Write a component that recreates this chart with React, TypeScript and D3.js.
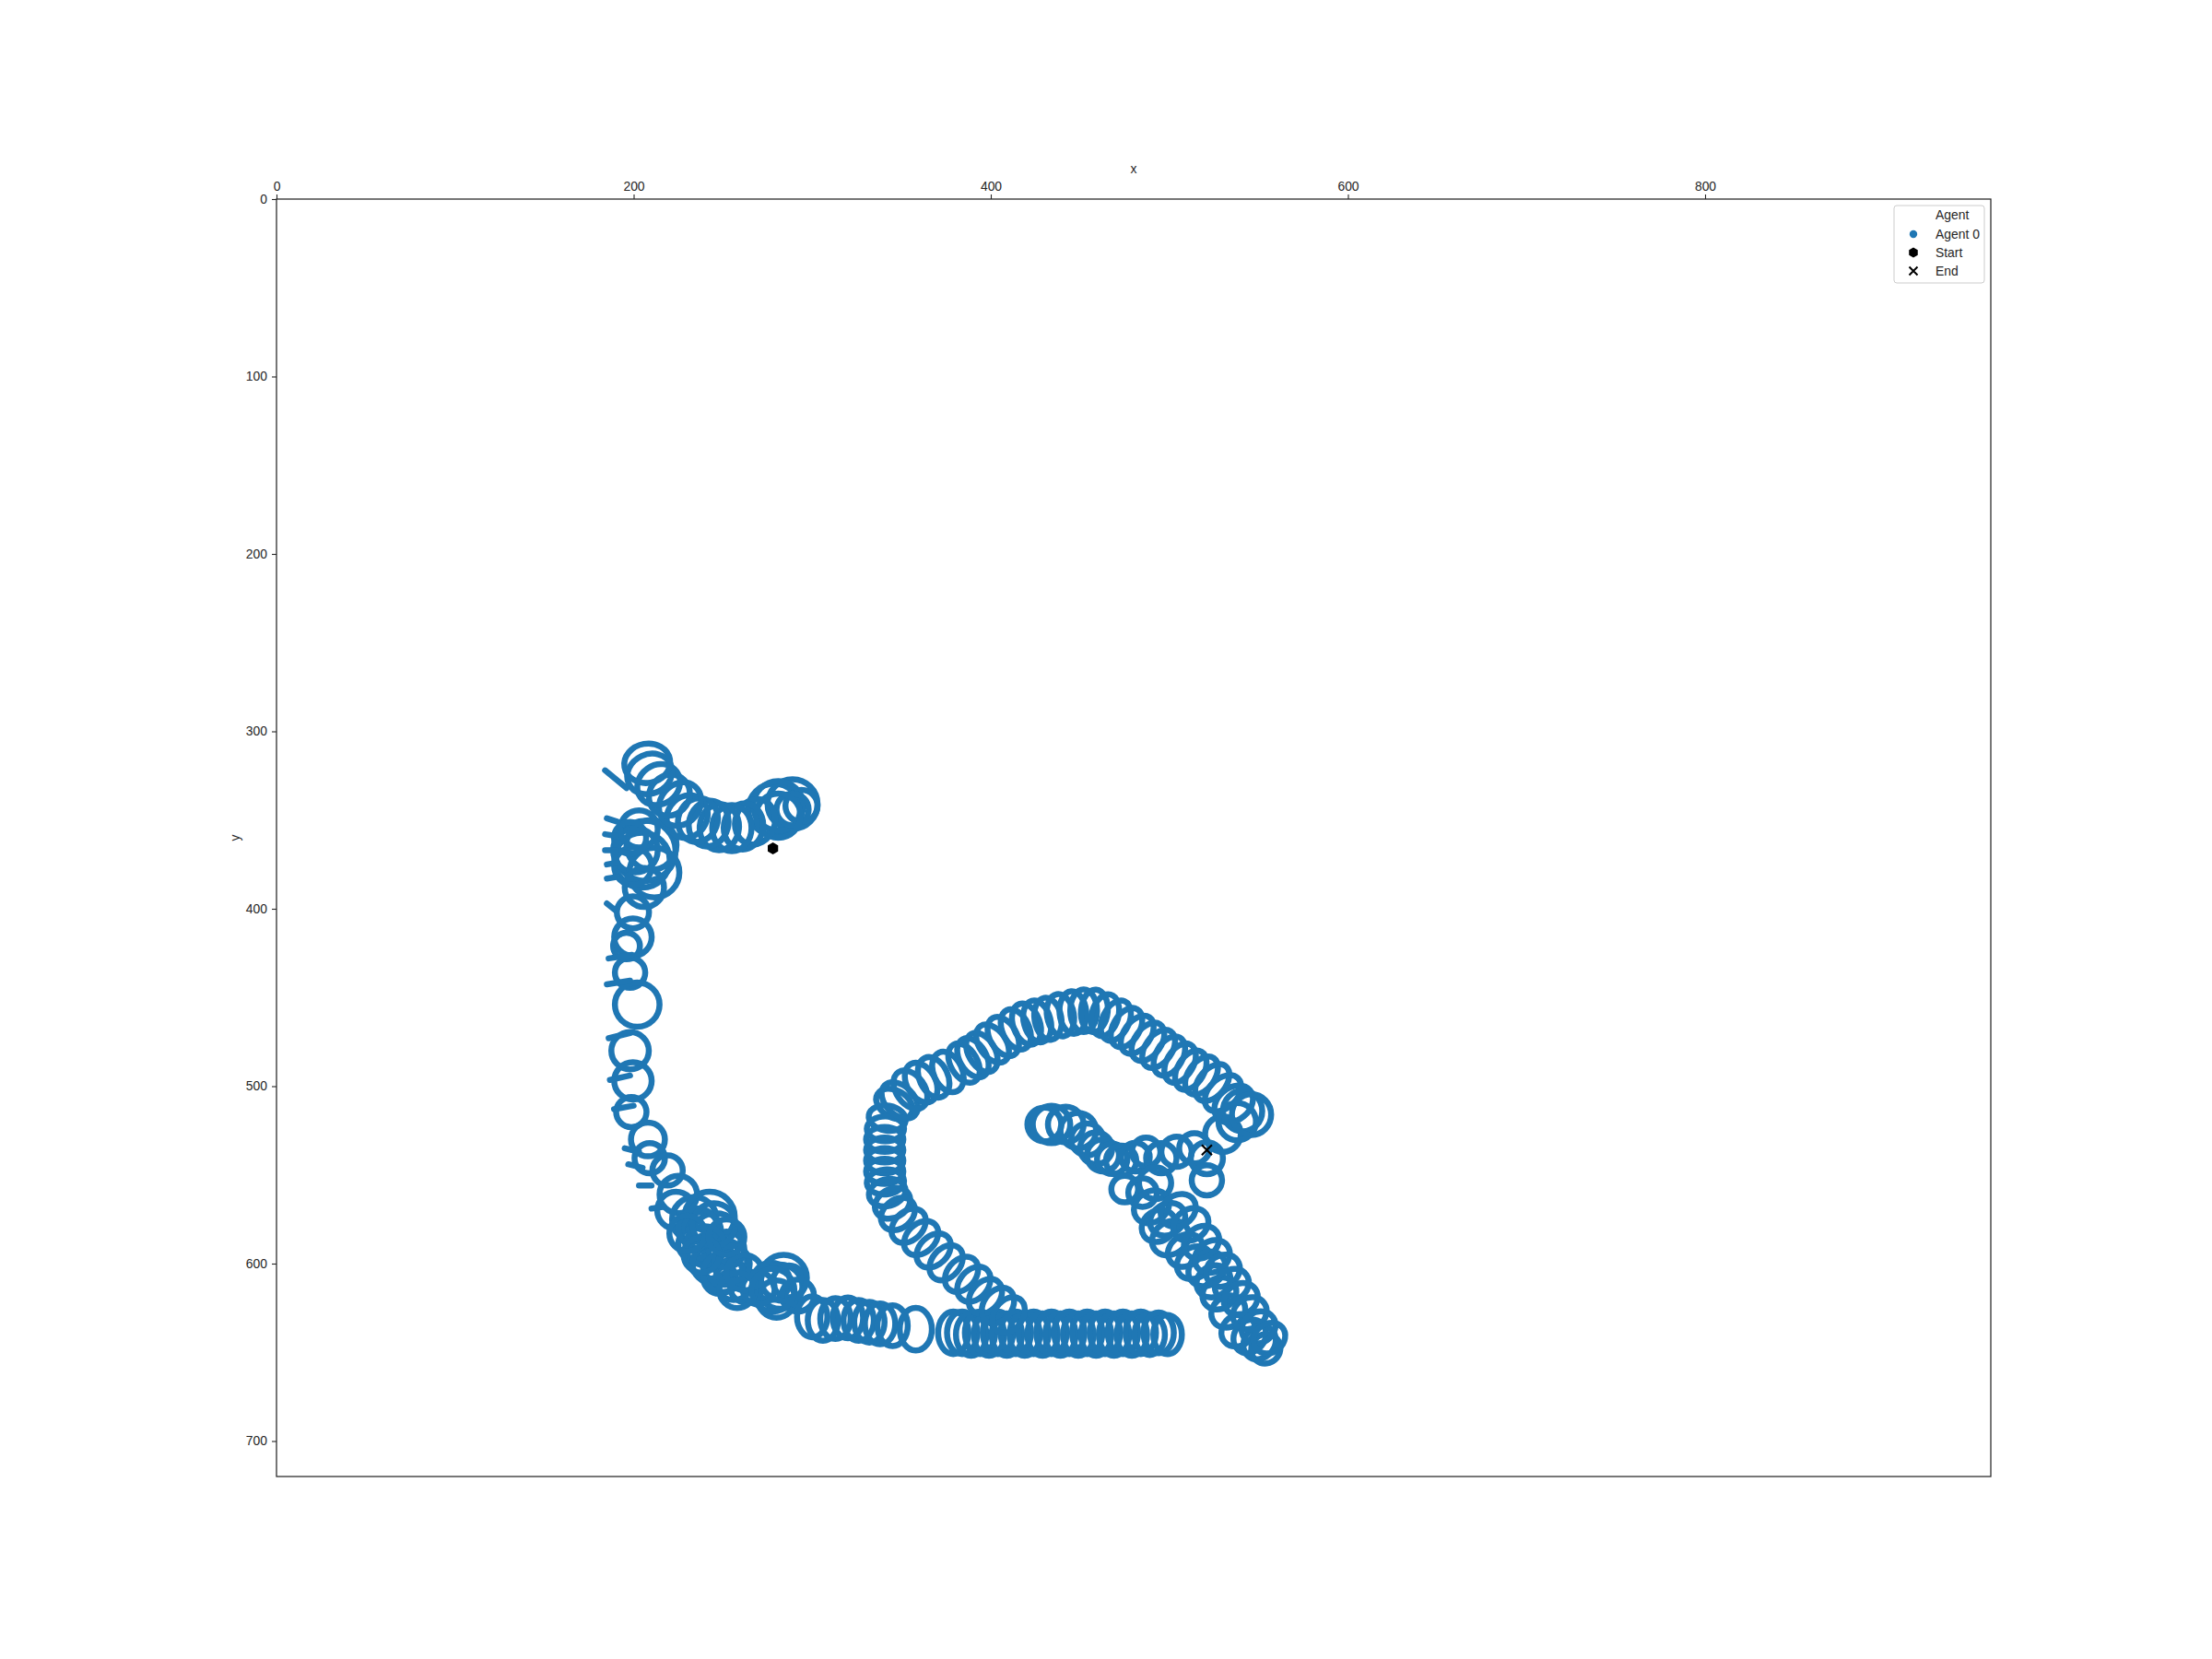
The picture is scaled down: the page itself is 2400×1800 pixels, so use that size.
import React, { useRef, useEffect } from 'react';
import * as d3 from 'd3';

// Loop rings of the agent trajectory (data units).
// round rings: [x, y, r]
const startCluster: [number, number, number][] = [
  [278.7, 344, 14.5], [289, 341, 14], [294, 342, 9], [281, 342, 14], [289, 344, 9], [281, 347.5, 12.5],
];
const leftCluster: [number, number, number][] = [
  [206.5, 367.4, 17], [204.7, 372.6, 15.5], [201, 367, 12.5], [210, 364, 14], [211.6, 379.6, 14],
  [199.6, 376, 10.5], [203, 355, 10.5], [199.6, 402, 9], [206, 388, 11], [198, 360, 9],
];
const leftColumn: [number, number, number][] = [
  [196, 421, 7.5], [199.6, 416, 10.5], [198, 436, 8.5], [202, 454, 12.5], [198, 480, 10.5], [199.6, 497, 10.5],
  [198.7, 514.6, 8.5], [208, 530, 9.5], [209, 540.6, 8.5], [219, 547.5, 8.5], [225, 561, 10.5],
];
const lowerCluster: [number, number, number][] = [
  [223.7, 570, 10.5], [234, 575, 12.5], [242.6, 573.5, 14], [246, 585.6, 14], [242.6, 596, 12.5], [251, 599.5, 12.5],
  [256, 610, 10.5], [263, 613, 9], [277, 610, 10.5], [282, 613, 12.5], [287, 610, 9], [280, 620, 10.5],
  [234, 589, 9], [248, 608, 9], [238, 582, 11], [252, 592, 10], [270, 614, 9], [292, 618, 9],
  [236, 580, 11], [240, 590, 11], [244, 600, 11], [250, 605, 11], [255, 600, 10], [245, 578, 12],
  [238, 595, 10], [258, 615, 10], [262, 605, 10], [230, 583, 10], [252, 585, 10], [284, 608, 13], [278, 615, 12],
];
const innerTail: [number, number, number][] = [
  [430, 521.6, 9.5], [434, 521.6, 10.5], [442, 521.6, 10], [449, 525, 10], [454, 530, 9], [459, 535, 9],
  [462.8, 539, 9], [468, 541, 8.5], [473, 542, 8.5], [475, 558, 7.5], [481, 540, 8], [487, 537, 8],
  [495.5, 540.6, 8.5], [504, 537, 8.5], [514, 535, 8.5], [521, 540.6, 9], [521, 553, 8.5], [492, 554.6, 9],
  [485, 560, 8], [530, 527, 10],
];

// elongated rings: [x, y, half-length along heading, half-width across, heading in degrees]
const topChain: [number, number, number, number, number][] = [
  [268, 351, 11, 13, 200], [261.5, 353.6, 11, 13, 190], [255, 354.5, 11, 13, 180], [248, 354, 11, 13, 185],
  [242, 352, 11, 13, 195], [236, 350, 11, 12.5, 200], [230, 348, 11, 12.5, 215], [226, 341, 11, 13, 220],
  [220, 336, 11, 12, 225], [214, 330, 11, 12.5, 235], [209, 324, 11, 13, 245], [207.6, 318, 11, 13, 260],
];
const bottomRow: [number, number, number, number, number][] = [
  [300, 630, 8.5, 11.5, 0], [306, 632, 8.5, 11.5, 0], [313, 631, 8.5, 11.5, 0], [320, 630.6, 8.5, 11.5, 0],
  [326, 632, 8.5, 11.5, 0], [332, 633, 8.5, 11.5, 0], [338, 634, 8.5, 11.5, 0], [345, 635, 8.5, 11.5, 0],
  [358, 637, 9, 12, 0], [379, 639, 8.5, 12, 0], [384, 639, 8.5, 12, 0], [389, 640, 8.5, 12, 0],
  [394, 639, 8.5, 12, 0], [399, 640, 8.5, 12, 0], [404, 639, 8.5, 12, 0], [409, 640, 8.5, 12, 0],
  [414, 639, 8.5, 12, 0], [419, 640, 8.5, 12, 0], [424, 639, 8.5, 12, 0], [429, 640, 8.5, 12, 0],
  [434, 639, 8.5, 12, 0], [439, 640, 8.5, 12, 0], [444, 639, 8.5, 12, 0], [449, 640, 8.5, 12, 0],
  [454, 639, 8.5, 12, 0], [459, 640, 8.5, 12, 0], [464, 639, 8.5, 12, 0], [469, 640, 8.5, 12, 0],
  [474, 639, 8.5, 12, 0], [479, 640, 8.5, 12, 0], [484, 639, 8.5, 12, 0], [489, 640, 8.5, 11.5, 0],
  [494, 639, 8.5, 11.5, 0], [499, 640, 8, 11, 0],
];
const arcLeft: [number, number, number, number, number][] = [
  [346, 510, 7.5, 11, -60], [342, 518, 7, 10.5, 100], [341, 524, 7, 10.5, 90], [340.6, 530, 7, 10.5, 90],
  [340.6, 536, 7, 10.5, 90], [340.6, 542, 7, 10.5, 90], [340.6, 548, 7, 10.5, 90], [341, 554, 7, 10.5, 85],
  [342, 560, 7.5, 10.5, 75], [345, 566, 8, 10.5, 60], [348, 572, 8, 10.5, 50], [354, 578.7, 8, 11, 45],
  [361, 585.6, 8, 11, 45], [368, 592.6, 8, 11, 45], [375, 599.5, 8, 11, 40], [383.6, 606, 8, 11, 40],
  [390.5, 611.6, 8, 11, 40], [397, 618.5, 8, 11, 40], [404, 623.7, 8, 11, 35], [410, 629, 8, 11, 35],
];
const arcTop: [number, number, number, number, number][] = [
  [349, 508, 8, 12, -45], [355, 502, 8, 12, -35], [361, 498, 8, 12, -30], [368, 495, 8, 12, -25],
  [376, 492, 8, 12, -25], [385, 487, 7.5, 12, -30], [390, 484, 7.5, 12, -30], [395, 481, 7.5, 12, -30],
  [401, 476, 7.5, 12, -35], [407, 472, 7.5, 12, -30], [414, 468, 7.5, 12, -25], [420, 465, 7.5, 12, -20],
  [426, 463.5, 7.5, 12, -15], [432, 462, 7.5, 12, -10], [439, 460, 7.5, 12, -10], [446, 458.5, 7.5, 12, -5],
  [452, 457.5, 7.5, 12, 0], [458, 457.5, 7.5, 12, 5], [464, 460, 7.5, 12, 15], [470, 463, 7.5, 12, 25],
  [476, 467, 7.5, 12, 30], [482, 471, 7.5, 12, 35], [488, 475, 7.5, 12, 35], [494, 479, 7.5, 12, 35],
  [500, 483, 7.5, 12, 30], [506, 487, 7.5, 12, 30], [512, 491, 7.5, 12, 30], [518, 494, 7.5, 12, 35],
  [524, 498, 7.5, 12, 40], [530, 504, 8, 12, 45], [536, 510, 9, 12, 50], [541, 514, 11, 11.5, 0],
  [546, 516, 11, 11.5, 0], [538, 520, 10.5, 10.5, 0],
];
const rightDiagonal: [number, number, number, number, number][] = [
  [490, 568, 8.5, 10.5, 55], [499, 575, 8.5, 10.5, 55], [494, 578.7, 8.5, 10, 55], [500.6, 585.6, 9, 11, 55],
  [509, 592.6, 8.5, 10.5, 55], [514, 599.5, 8.5, 10.5, 55], [521, 603, 9, 11, 55], [524.7, 610, 8.5, 10, 55],
  [528, 616.8, 8.5, 10, 55], [533, 627, 8.5, 10, 55], [538.5, 637.6, 8.5, 10, 50], [545, 641, 8.5, 10, 40],
  [550.5, 644.5, 8.5, 10, 40], [554, 648, 8, 8.5, 40],
  [505, 570, 8.5, 10.5, 55], [512, 578, 8.5, 10.5, 55], [518, 588, 8.5, 10.5, 55], [524, 596, 8.5, 10.5, 55],
  [530, 604, 8.5, 10, 55], [535, 612, 8.5, 10, 55], [540, 620, 8.5, 10, 55], [545, 628, 8.5, 10, 55],
  [550, 636, 8.5, 10, 55], [556, 642, 8, 9.5, 50],
];

// short hooks where the path doubles back on the left edge: [x1, y1, x2, y2]
const leftHooks: [number, number, number, number][] = [
  [184, 322, 196, 332], [185, 349, 191, 351], [184, 358, 190, 359], [184, 367, 190, 367], [185, 375, 191, 374],
  [185, 383, 191, 382], [185, 397, 190, 401], [186, 428, 199, 426], [185, 442.6, 198, 440.5], [186, 473, 198, 470],
  [186.7, 496.5, 198, 494], [189, 513, 200, 511], [195, 535, 203, 537], [197, 544, 205, 546], [203, 556, 210, 556],
  [210, 569, 217, 568],
];

const startPoint: [number, number] = [278, 366];
const endPoint: [number, number] = [521, 536];

const xTicks = [0, 200, 400, 600, 800];
const yTicks = [0, 100, 200, 300, 400, 500, 600, 700];
const legendLabels = ['Agent', 'Agent 0', 'Start', 'End'];

const BLUE = '#1f77b4';
const INK = '#262626';
const FONT = '"Liberation Sans", Arial, sans-serif';

const App: React.FC = () => {
  const svgRef = useRef<SVGSVGElement | null>(null);

  useEffect(() => {
    if (!svgRef.current) return;
    const width = 2400;
    const height = 1800;
    const left = 300, right = 2160, top = 216, bottom = 1602;

    const x = d3.scaleLinear().domain([0, 960]).range([left, right]);
    const y = d3.scaleLinear().domain([0, 720]).range([top, bottom]);
    const kx = x(1) - x(0);
    const ky = y(1) - y(0);

    const svg = d3.select(svgRef.current);
    svg.selectAll('*').remove();
    svg.attr('width', width).attr('height', height);

    svg.append('rect').attr('width', width).attr('height', height).attr('fill', 'white');

    const rings: [number, number, number, number, number][] = [
      ...[...startCluster, ...leftCluster, ...leftColumn, ...lowerCluster, ...innerTail]
        .map(d => [d[0], d[1], d[2], d[2], 0] as [number, number, number, number, number]),
      ...topChain, ...bottomRow, ...arcLeft, ...arcTop, ...rightDiagonal,
    ];

    const plot = svg.append('g');
    plot.selectAll('ellipse.loop')
      .data(rings)
      .enter().append('ellipse')
      .attr('class', 'loop')
      .attr('transform', d => `translate(${x(d[0])},${y(d[1])}) rotate(${d[4]})`)
      .attr('rx', d => d[2] * kx)
      .attr('ry', d => d[3] * ky)
      .attr('fill', 'none')
      .attr('stroke', BLUE)
      .attr('stroke-width', 6.5);

    const hookLine = d3.line<[number, number]>().x(d => x(d[0])).y(d => y(d[1]));
    plot.selectAll('path.hook')
      .data(leftHooks)
      .enter().append('path')
      .attr('class', 'hook')
      .attr('d', d => hookLine([[d[0], d[1]], [d[2], d[3]]]))
      .attr('fill', 'none')
      .attr('stroke', BLUE)
      .attr('stroke-width', 6.5)
      .attr('stroke-linecap', 'round');

    // hexagon marker (pointy top)
    const hexPath = (r: number) => {
      const pts = d3.range(6).map(i => {
        const a = -Math.PI / 2 + i * Math.PI / 3;
        return [Math.cos(a) * r, Math.sin(a) * r];
      });
      return 'M' + pts.map(p => p.join(',')).join('L') + 'Z';
    };
    const crossPath = (r: number) => `M${-r},${-r}L${r},${r}M${-r},${r}L${r},${-r}`;

    plot.append('path')
      .attr('d', hexPath(6.5))
      .attr('transform', `translate(${x(startPoint[0])},${y(startPoint[1])})`)
      .attr('fill', 'black');

    plot.append('path')
      .attr('d', crossPath(5.5))
      .attr('transform', `translate(${x(endPoint[0])},${y(endPoint[1])})`)
      .attr('stroke', 'black')
      .attr('stroke-width', 2.2)
      .attr('fill', 'none');

    // frame
    svg.append('rect')
      .attr('x', left).attr('y', top)
      .attr('width', right - left).attr('height', bottom - top)
      .attr('fill', 'none').attr('stroke', INK).attr('stroke-width', 1.25);

    // top axis
    const xAxis = svg.append('g')
      .attr('transform', `translate(0,${top})`)
      .call(d3.axisTop(x).tickValues(xTicks).tickSize(5).tickPadding(4).tickFormat(d3.format('d')));
    xAxis.select('.domain').remove();
    xAxis.selectAll('line').attr('stroke', INK).attr('stroke-width', 1.1);
    xAxis.selectAll('text').attr('fill', INK).style('font-size', '13.9px').style('font-family', FONT);

    // left axis
    const yAxis = svg.append('g')
      .attr('transform', `translate(${left},0)`)
      .call(d3.axisLeft(y).tickValues(yTicks).tickSize(5).tickPadding(5).tickFormat(d3.format('d')));
    yAxis.select('.domain').remove();
    yAxis.selectAll('line').attr('stroke', INK).attr('stroke-width', 1.1);
    yAxis.selectAll('text').attr('fill', INK).style('font-size', '13.9px').style('font-family', FONT);

    // axis labels
    svg.append('text')
      .attr('x', (left + right) / 2).attr('y', 188)
      .attr('text-anchor', 'middle')
      .attr('fill', INK).style('font-size', '13.9px').style('font-family', FONT)
      .text('x');
    svg.append('text')
      .attr('transform', `translate(260,${(top + bottom) / 2}) rotate(-90)`)
      .attr('text-anchor', 'middle')
      .attr('fill', INK).style('font-size', '13.9px').style('font-family', FONT)
      .text('y');

    // legend
    const lg = svg.append('g');
    lg.append('rect')
      .attr('x', 2055).attr('y', 223).attr('width', 98).attr('height', 84)
      .attr('rx', 3).attr('fill', 'white').attr('fill-opacity', 0.8)
      .attr('stroke', '#cccccc').attr('stroke-width', 1);

    const rowY = [233, 254, 274, 294];
    legendLabels.forEach((label, i) => {
      lg.append('text')
        .attr('x', 2100).attr('y', rowY[i]).attr('dy', '0.35em')
        .attr('fill', INK).style('font-size', '13.9px').style('font-family', FONT)
        .text(label);
    });
    lg.append('circle').attr('cx', 2076).attr('cy', rowY[1]).attr('r', 4.2).attr('fill', BLUE);
    lg.append('path').attr('d', hexPath(5.5)).attr('transform', `translate(2076,${rowY[2]})`).attr('fill', 'black');
    lg.append('path').attr('d', crossPath(4.5)).attr('transform', `translate(2076,${rowY[3]})`)
      .attr('stroke', 'black').attr('stroke-width', 2).attr('fill', 'none');
  }, []);

  return (
    <div style={{ position: 'absolute', left: 0, top: 0 }}>
      <svg ref={svgRef} />
    </div>
  );
};

export default App;
